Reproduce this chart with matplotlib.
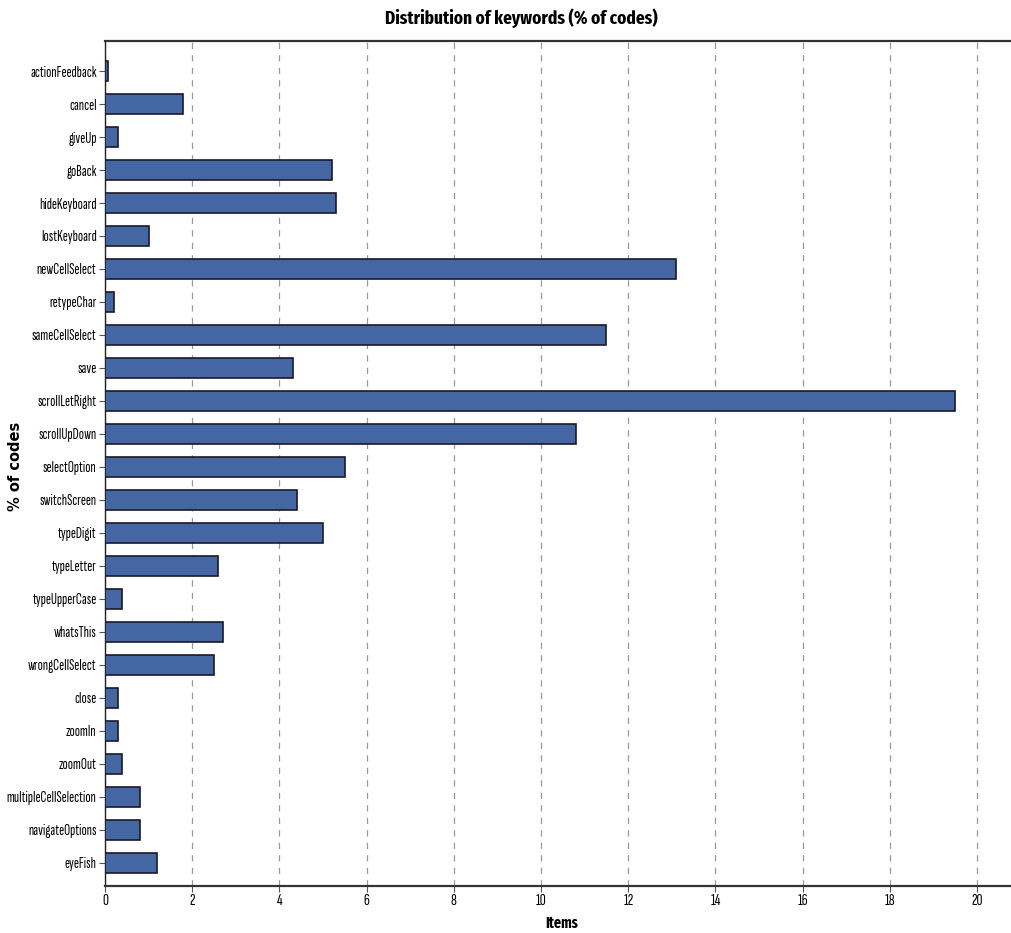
import matplotlib
matplotlib.use("Agg")
import matplotlib.pyplot as plt

categories = ["actionFeedback", "cancel", "giveUp", "goBack", "hideKeyboard", "lostKeyboard",
              "newCellSelect", "retypeChar", "sameCellSelect", "save", "scrollLetRight",
              "scrollUpDown", "selectOption", "switchScreen", "typeDigit", "typeLetter",
              "typeUpperCase", "whatsThis", "wrongCellSelect", "close", "zoomIn", "zoomOut",
              "multipleCellSelection", "navigateOptions", "eyeFish"]
values = [0.07, 1.8, 0.3, 5.2, 5.3, 1.0, 13.1, 0.2, 11.5, 4.3, 19.5, 10.8, 5.5, 4.4, 5.0,
          2.6, 0.4, 2.7, 2.5, 0.3, 0.3, 0.4, 0.8, 0.8, 1.2]
xticks = [0, 2, 4, 6, 8, 10, 12, 14, 16, 18, 20]

narrow = ["Sofia Sans Extra Condensed", "Fira Sans Extra Condensed", "DejaVu Sans"]
title_font = ["Fira Sans Extra Condensed", "DejaVu Sans"]

fig = plt.figure(figsize=(10.12, 9.33), dpi=100)
ax = fig.add_axes([105/1012, 1-886/933, 1-105/1012, (886-41)/933])

ypos = list(range(len(categories)))
ax.barh(ypos, values, height=0.6, color="#4466a3", edgecolor="#1a1a2a", linewidth=1.2, zorder=3)
ax.set_yticks(ypos)
ax.set_yticklabels(categories, family=narrow, fontsize=11)
ax.set_ylim(24.7, -0.91)
ax.set_xlim(0, 20.8)
ax.set_xticks(xticks)
ax.set_xticklabels([str(t) for t in xticks], family=narrow, fontsize=12)
ax.grid(axis="x", linestyle=(0, (5, 5)), color="#999999", linewidth=0.9, zorder=0)
for s in ["top", "bottom"]:
    ax.spines[s].set_color("#333333")
    ax.spines[s].set_linewidth(1.6)
ax.spines["right"].set_visible(False)
ax.spines["left"].set_color("#222222")
ax.spines["left"].set_linewidth(1.0)
ax.tick_params(axis="both", length=4, width=0.8, color="#555555", direction="out", pad=2)

fig.text(0.515, 1-18/933, "Distribution of keywords (% of codes)", ha="center", va="center",
         family=title_font, fontsize=13.5, fontweight="bold")
fig.text(0.555, 1-923/933, "Items", ha="center", va="center", family=title_font, fontsize=11,
         fontweight="bold")
fig.text(16/1012, 1-466/933, "% of codes", ha="center", va="center", rotation=90,
         family="DejaVu Sans", fontsize=10.5, fontweight="bold")

fig.savefig("out.png", dpi=100)
